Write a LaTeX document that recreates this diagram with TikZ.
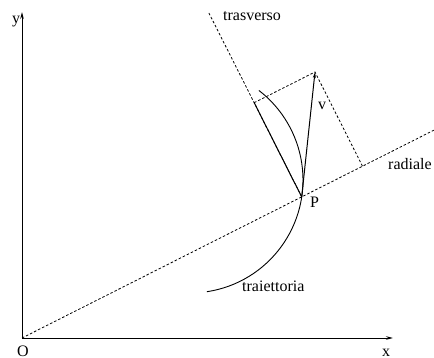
\documentclass[tikz,border=0pt]{standalone}
\usepackage{fontspec}
\setmainfont{Liberation Serif}
\usetikzlibrary{calc,arrows.meta}
\begin{document}
\begin{tikzpicture}[x=1pt,y=1pt,
  lbl/.style={inner sep=0pt,anchor=base west,font=\fontsize{16}{18}\selectfont},
  axis/.style={line width=1pt,-{Stealth[length=7pt,width=3.5pt]}},
  dsh/.style={line width=0.8pt,dash pattern=on 2.5pt off 2pt},
  solidline/.style={line width=1pt}]
\useasboundingbox (0,0) rectangle (434,-358);
\coordinate (O) at (22,-338);
\coordinate (Xend) at (393,-338);
\coordinate (Yend) at (22,-12);
\coordinate (P) at (301.7,-196.9);
\coordinate (Rend) at (440,-127.1);
\coordinate (Tend) at (208.9,-13);
\coordinate (V) at (315,-72);
\coordinate (C) at (190,-180);
% axes
\draw[axis] (O) -- (Xend);
\draw[axis] (O) -- (Yend);
% radial and transverse lines
\draw[dsh] (O) -- (Rend);
\draw[dsh] (Tend) -- (P);
% projections
\coordinate (R) at ($(O)!(V)!(Rend)$);
\coordinate (T) at ($(P)!(V)!(Tend)$);
\draw[dsh] (T) -- (V) -- (R);
\draw[solidline] (P) -- (T);
\draw[line width=1pt,-{Stealth[length=6pt,width=3pt]}] (P) -- (V);
% trajectory
\draw[line width=0.9pt] ($(C)+(-81.4:113)$) arc[start angle=-81.4,end angle=52.4,radius=113];
% labels
\node[lbl] (ylab) at (12,-24) {y};
\node[lbl] (olab) at (17,-356) {O};
\node[lbl] (xlab) at (382,-356) {x};
\node[lbl] (tlab) at (223,-21) {trasverso};
\node[lbl] (rlab) at (388,-170) {radiale};
\node[lbl] (vlab) at (318,-110) {v};
\node[lbl] (plab) at (310,-208) {P};
\node[lbl] (trlab) at (242,-292) {traiettoria};
\end{tikzpicture}
\end{document}
